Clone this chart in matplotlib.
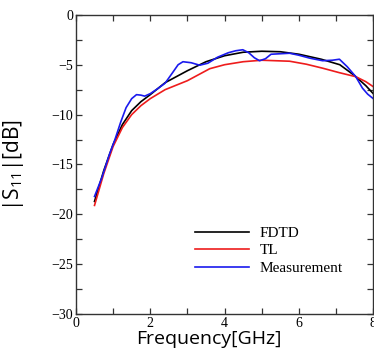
import matplotlib
matplotlib.use("Agg")
import matplotlib.pyplot as plt
from matplotlib.ticker import MultipleLocator

# Data
fdtd_f = [0.5, 0.75, 1.0, 1.25, 1.5, 1.75, 2.0, 2.4, 3.0, 3.5, 4.0, 4.5, 5.0, 5.5, 6.0, 6.6, 7.1, 7.5, 7.8, 8.0]
fdtd_db = [-18.7, -15.6, -13.0, -11.0, -9.6, -8.7, -8.0, -6.8, -5.6, -4.7, -4.1, -3.75, -3.65, -3.7, -3.95, -4.45, -5.0, -6.1, -7.1, -7.9]

tl_f = [0.5, 0.75, 1.0, 1.25, 1.5, 1.75, 2.0, 2.4, 3.0, 3.6, 4.0, 4.5, 5.0, 5.75, 6.2, 6.64, 7.09, 7.53, 7.8, 8.0]
tl_db = [-19.1, -15.9, -13.2, -11.3, -10.0, -9.1, -8.4, -7.5, -6.6, -5.4, -5.0, -4.7, -4.55, -4.65, -4.95, -5.35, -5.8, -6.2, -6.7, -7.2]

meas_f = [0.5, 0.7, 0.9, 1.05, 1.2, 1.35, 1.5, 1.63, 1.75, 1.85, 2.0, 2.2, 2.4, 2.6, 2.75, 2.88, 3.1, 3.33,
          3.55, 3.81, 4.1, 4.3, 4.49, 4.65, 4.8, 4.94, 5.1, 5.25, 5.5, 5.75, 6.0, 6.3, 6.64, 6.9, 7.09, 7.3,
          7.53, 7.71, 7.85, 8.0]
meas_db = [-18.2, -16.3, -14.0, -12.5, -10.8, -9.3, -8.4, -8.0, -8.05, -8.15, -7.9, -7.4, -6.85, -5.8, -5.0, -4.7,
           -4.8, -5.05, -4.85, -4.25, -3.8, -3.6, -3.5, -3.8, -4.3, -4.6, -4.4, -3.95, -3.9, -3.85, -4.05, -4.35,
           -4.6, -4.55, -4.45, -5.2, -6.2, -7.35, -7.95, -8.4]

labels = ["FDTD", "TL", "Measurement"]

plt.rcParams['mathtext.fontset'] = 'custom'
plt.rcParams['mathtext.rm'] = 'Open Sans'
plt.rcParams['mathtext.it'] = 'Open Sans:italic'

fig = plt.figure(figsize=(3.74, 3.53), dpi=100)
ax = fig.add_axes([0.203, 0.110, 0.795, 0.848])

ax.plot(fdtd_f, fdtd_db, color='black', lw=1.2, label=labels[0])
ax.plot(tl_f, tl_db, color='#ee1c1c', lw=1.2, label=labels[1])
ax.plot(meas_f, meas_db, color='#1a1aee', lw=1.2, label=labels[2])

ax.set_xlim(0, 8)
ax.set_ylim(-30, 0)
ax.xaxis.set_major_locator(MultipleLocator(2))
ax.xaxis.set_minor_locator(MultipleLocator(1))
ax.yaxis.set_major_locator(MultipleLocator(5))
ax.yaxis.set_minor_locator(MultipleLocator(2.5))
ax.tick_params(which='both', direction='in', top=True, right=True, length=4, width=0.9, color='#333333')
ax.tick_params(which='major', labelsize=10, pad=2)
for lab in ax.get_xticklabels() + ax.get_yticklabels():
    lab.set_family('Liberation Serif')
for s in ax.spines.values():
    s.set_linewidth(1.0)
    s.set_color('#333333')

ax.set_xlabel('Frequency[GHz]', fontsize=14, family='Open Sans')
ax.set_ylabel(r'$\mathrm{|S_{11}|}$[dB]', fontsize=15, family='Open Sans')
ax.xaxis.set_label_coords(0.448, -0.053)
ax.yaxis.set_label_coords(-0.168, 0.5)

leg = ax.legend(loc='lower left', bbox_to_anchor=(0.355, 0.085), frameon=False,
                prop={'family': 'Liberation Serif', 'size': 11}, handlelength=3.5,
                handletextpad=0.7, labelspacing=0.25)

fig.savefig('out.png', dpi=100)
